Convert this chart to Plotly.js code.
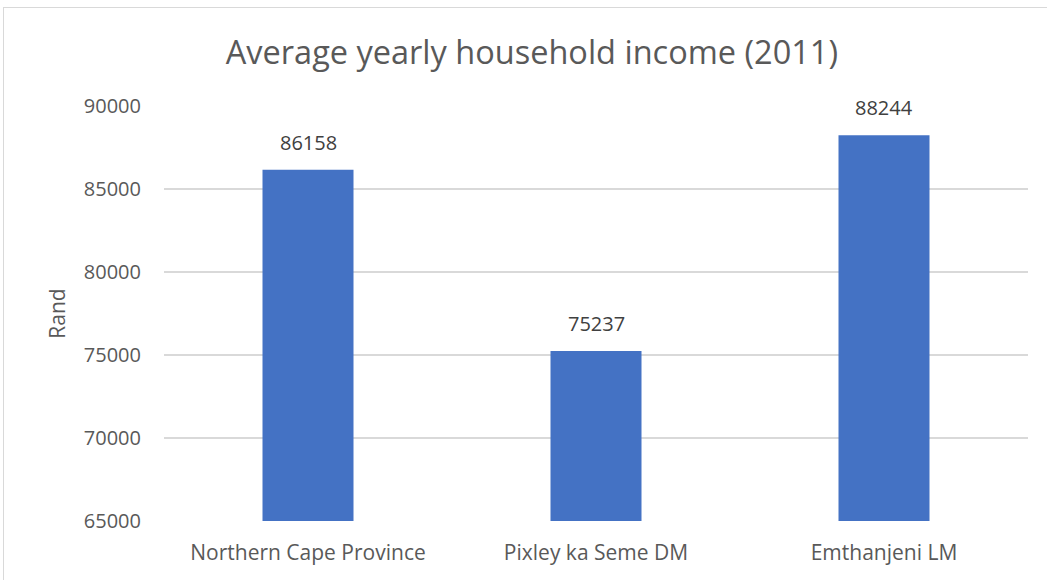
<!DOCTYPE html>
<html><head><meta charset="utf-8">
<script src="https://cdn.plot.ly/plotly-3.0.1.min.js"></script>
<style>
html,body{margin:0;padding:0;background:#fff;overflow:hidden}
#frame{position:absolute;left:3px;top:7px;width:1100px;height:620px;border:1px solid #d9d9d9;box-sizing:border-box;pointer-events:none;z-index:5}
#chart{position:absolute;left:0;top:0;width:1047px;height:580px}
</style></head>
<body>
<div id="chart"></div>
<div id="frame"></div>
<script>
const categories = ["Northern Cape Province", "Pixley ka Seme DM", "Emthanjeni LM"];
const values = [86158, 75237, 88244];
const yTicks = [65000, 70000, 75000, 80000, 85000, 90000];
const chartTitle = "Average yearly household income (2011)";
const yTitle = "Rand";

const fontFam = "'Open Sans', sans-serif";

const trace = {
  type: "bar",
  x: categories,
  y: values,
  width: 0.316,
  marker: {color: "#4472c4", line: {width: 0}},
  hoverinfo: "x+y"
};

const annotations = categories.map((c, i) => ({
  x: c, y: values[i], xref: "x", yref: "y",
  text: String(values[i]), showarrow: false,
  yanchor: "bottom", yshift: 12,
  font: {family: fontFam, size: 20, color: "#404040"}
}));

const layout = {
  width: 1047, height: 580,
  margin: {l: 164, r: 19, t: 106, b: 59},
  paper_bgcolor: "#fff", plot_bgcolor: "#fff",
  showlegend: false,
  bargap: 0.684,
  title: {text: chartTitle, x: 0.508, xref: "container", xanchor: "center", y: 0.91, yref: "container", yanchor: "middle",
          font: {family: fontFam, size: 32.5, color: "#595959"}},
  xaxis: {type: "category", showgrid: false, zeroline: false, showline: false, ticks: "",
          ticklabelstandoff: 17,
          tickfont: {family: fontFam, size: 21, color: "#595959"}},
  yaxis: {range: [65000, 90000], tickvals: yTicks, ticktext: yTicks.map(String),
          showgrid: true, gridcolor: "#d9d9d9", gridwidth: 1.3, zeroline: false, showline: false, ticks: "",
          ticklabelstandoff: 22,
          tickfont: {family: fontFam, size: 20, color: "#595959"},
          title: {text: yTitle, standoff: 12, font: {family: fontFam, size: 21, color: "#595959"}}},
  annotations: annotations
};

Plotly.newPlot("chart", [trace], layout, {displayModeBar: false, staticPlot: true});
</script>
</body></html>
